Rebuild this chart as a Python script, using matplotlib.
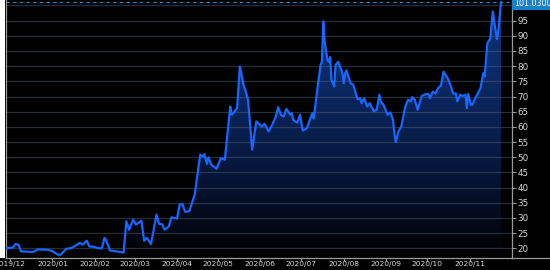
import numpy as np
import pandas as pd
import matplotlib
matplotlib.use('Agg')
import matplotlib.pyplot as plt
import matplotlib.dates as mdates
from matplotlib.colors import LinearSegmentedColormap
from matplotlib.patches import Rectangle
from matplotlib.lines import Line2D

dates = [
    "2019-11-28", "2019-12-03", "2019-12-05", "2019-12-07", "2019-12-09", "2019-12-13",
    "2019-12-18", "2019-12-21", "2019-12-25", "2019-12-29", "2020-01-01", "2020-01-05",
    "2020-01-07", "2020-01-11", "2020-01-15", "2020-01-18", "2020-01-21", "2020-01-23",
    "2020-01-26", "2020-01-28", "2020-01-31", "2020-02-03", "2020-02-06", "2020-02-08",
    "2020-02-09", "2020-02-12", "2020-02-15", "2020-02-19", "2020-02-22", "2020-02-24",
    "2020-02-26", "2020-02-29", "2020-03-02", "2020-03-05", "2020-03-06", "2020-03-08",
    "2020-03-10", "2020-03-13", "2020-03-15", "2020-03-17", "2020-03-19", "2020-03-21",
    "2020-03-23", "2020-03-26", "2020-03-28", "2020-03-30", "2020-04-01", "2020-04-03",
    "2020-04-05", "2020-04-07", "2020-04-10", "2020-04-14", "2020-04-18", "2020-04-20",
    "2020-04-21", "2020-04-23", "2020-04-24", "2020-04-26", "2020-04-30", "2020-05-03",
    "2020-05-06", "2020-05-10", "2020-05-11", "2020-05-13", "2020-05-15", "2020-05-17",
    "2020-05-20", "2020-05-21", "2020-05-23", "2020-05-26", "2020-05-29", "2020-06-02",
    "2020-06-04", "2020-06-07", "2020-06-09", "2020-06-12", "2020-06-14", "2020-06-16",
    "2020-06-18", "2020-06-20", "2020-06-23", "2020-06-24", "2020-06-25", "2020-06-28",
    "2020-06-30", "2020-07-02", "2020-07-05", "2020-07-07", "2020-07-09", "2020-07-10",
    "2020-07-12", "2020-07-15", "2020-07-16", "2020-07-17", "2020-07-18", "2020-07-20",
    "2020-07-21", "2020-07-22", "2020-07-23", "2020-07-25", "2020-07-26", "2020-07-28",
    "2020-07-31", "2020-08-01", "2020-08-02", "2020-08-03", "2020-08-06", "2020-08-08",
    "2020-08-11", "2020-08-13", "2020-08-14", "2020-08-16", "2020-08-18", "2020-08-20",
    "2020-08-23", "2020-08-25", "2020-08-27", "2020-08-28", "2020-08-30", "2020-09-02",
    "2020-09-04", "2020-09-06", "2020-09-07", "2020-09-08", "2020-09-10", "2020-09-12",
    "2020-09-15", "2020-09-17", "2020-09-19", "2020-09-20", "2020-09-22", "2020-09-24",
    "2020-09-27", "2020-09-30", "2020-10-02", "2020-10-03", "2020-10-05", "2020-10-07",
    "2020-10-09", "2020-10-11", "2020-10-13", "2020-10-16", "2020-10-18", "2020-10-20",
    "2020-10-22", "2020-10-23", "2020-10-25", "2020-10-27", "2020-10-29", "2020-10-30",
    "2020-10-31", "2020-11-02", "2020-11-03", "2020-11-05", "2020-11-07", "2020-11-09",
    "2020-11-11", "2020-11-12", "2020-11-14", "2020-11-16", "2020-11-18", "2020-11-19",
    "2020-11-21", "2020-11-22", "2020-11-23", "2020-11-24",
]
values = [
    20.1, 20.2, 21.4, 21.2, 19.0, 18.9,
    18.8, 19.6, 19.6, 19.5, 19.0, 17.9,
    17.9, 19.8, 20.1, 20.9, 21.8, 21.2,
    22.5, 20.6, 20.5, 20.1, 19.9, 23.4,
    22.9, 19.3, 19.1, 18.8, 18.6, 28.9,
    26.1, 29.4, 27.8, 28.7, 29.1, 22.5,
    23.4, 21.4, 26.1, 31.1, 28.0, 28.0,
    26.1, 27.2, 30.2, 30.0, 29.8, 34.4,
    34.6, 32.0, 32.2, 37.7, 50.8, 50.3,
    51.0, 47.8, 50.0, 47.6, 46.2, 49.7,
    49.2, 66.7, 64.0, 65.0, 66.2, 79.9,
    73.3, 72.2, 68.9, 52.5, 61.8, 60.1,
    61.0, 58.5, 60.1, 63.0, 66.5, 64.0,
    63.4, 65.9, 64.0, 64.5, 62.3, 61.4,
    64.0, 58.8, 59.6, 62.1, 64.5, 62.8,
    70.0, 80.4, 81.5, 94.7, 88.1, 82.1,
    81.5, 83.0, 75.5, 73.3, 80.4, 81.5,
    77.7, 74.4, 77.7, 78.6, 74.4, 73.8,
    69.1, 69.4, 67.8, 69.4, 66.7, 67.8,
    65.1, 65.6, 70.6, 68.4, 67.3, 64.0,
    64.8, 62.3, 58.0, 55.0, 58.5, 60.1,
    66.7, 68.9, 68.4, 69.8, 68.9, 65.6,
    70.2, 70.8, 70.8, 69.4, 71.6, 71.0,
    72.8, 73.6, 78.2, 76.0, 73.8, 71.0,
    71.0, 68.4, 70.6, 70.2, 70.6, 66.2,
    70.8, 67.3, 67.3, 69.4, 71.0, 72.8,
    77.7, 76.6, 87.6, 89.0, 98.0, 94.7,
    88.9, 91.5, 96.5, 101.03,
]
last_value = 101.03
y_ticks = list(range(20, 101, 5))
y_labels = [str(v) if v < 100 else "" for v in y_ticks]
month_ticks = ["2019-12-01", "2020-01-01", "2020-02-01", "2020-03-01", "2020-04-01",
               "2020-05-01", "2020-06-01", "2020-07-01", "2020-08-01", "2020-09-01",
               "2020-10-01", "2020-11-01"]

W, H = 550, 270
fig = plt.figure(figsize=(W / 100, H / 100), dpi=100, facecolor='black')
ax = fig.add_axes([6 / W, 12 / H, 506 / W, 258 / H])
ax.set_facecolor('black')

x = mdates.date2num(pd.to_datetime(dates))
ymin, ymax = 16.8, 101.8

# gradient fill under the line
poly = ax.fill_between(x, values, ymin, color='none', lw=0)
cmap = LinearSegmentedColormap.from_list('g', ['#000000', '#06163a', '#0b2862', '#0f3278'])
grad = np.linspace(0, 1, 256).reshape(-1, 1)
im = ax.imshow(grad, extent=[x[0], x[-1], ymin, ymax], origin='lower', cmap=cmap,
               aspect='auto', zorder=1, interpolation='bilinear')
im.set_clip_path(poly.get_paths()[0], transform=ax.transData)

ax.plot(x, values, color='#1766ff', lw=1.6, zorder=3, solid_joinstyle='round')
ax.axhline(last_value, color='#1f86c8', lw=0.8, ls=(0, (3, 3)), zorder=4)

ax.set_xlim(x[0], x[-1] + 8)
ax.set_ylim(ymin, ymax)

ax.set_yticks(y_ticks)
ax.set_yticklabels(y_labels)
ax.yaxis.tick_right()
ax.yaxis.grid(True, color='#5a6478', alpha=0.45, lw=0.9)
ax.xaxis.grid(False)

ax.set_xticks(mdates.date2num(pd.to_datetime(month_ticks)))
ax.xaxis.set_major_formatter(mdates.DateFormatter('%Y/%m'))
ax.tick_params(axis='y', colors='#9a9a9a', labelcolor='#d8d8d8', labelsize=6.3,
               length=3, width=0.8, pad=1)
ax.tick_params(axis='x', colors='#9a9a9a', labelcolor='#d8d8d8', labelsize=5.4,
               length=2, width=0.8, pad=0.5)

ax.spines['top'].set_visible(False)
for s in ['left', 'right', 'bottom']:
    ax.spines[s].set_color('#9a9a9a')
    ax.spines[s].set_linewidth(0.9)

ax.annotate(f'{last_value:.4f}', xy=(1, last_value), xycoords=('axes fraction', 'data'),
            xytext=(1.2, -0.8), textcoords='offset points', va='center', ha='left',
            fontsize=5.8, color='white',
            bbox=dict(boxstyle='square,pad=0.2', fc='#1a80c8', ec='none'),
            annotation_clip=False, zorder=6)

# white strip at left edge and bottom line extension
fig.patches.append(Rectangle((0, 12 / H), 5 / W, 258 / H, transform=fig.transFigure,
                             fc='white', ec='none', zorder=0))
fig.lines.append(Line2D([512 / W, 1], [12 / H, 12 / H], transform=fig.transFigure,
                        color='#9a9a9a', lw=0.9))

fig.savefig('out.png', dpi=100, facecolor='black')
